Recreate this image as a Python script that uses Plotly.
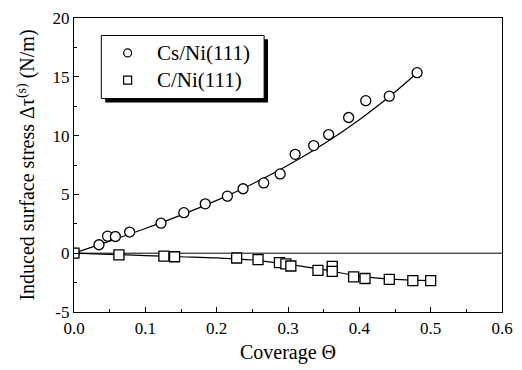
import plotly.graph_objects as go

# ---- data ----
cs_theta = [0.0, 0.035, 0.047, 0.058, 0.078, 0.122, 0.154, 0.184, 0.215, 0.237,
            0.266, 0.289, 0.310, 0.336, 0.357, 0.385, 0.409, 0.442, 0.481]
cs_stress = [0.0, 0.72, 1.45, 1.42, 1.80, 2.55, 3.45, 4.20, 4.85, 5.48,
             5.98, 6.74, 8.41, 9.15, 10.09, 11.54, 12.97, 13.35, 15.35]

c_theta = [0.0, 0.063, 0.126, 0.141, 0.228, 0.258, 0.288, 0.297, 0.304, 0.342,
           0.362, 0.362, 0.392, 0.408, 0.442, 0.475, 0.500]
c_stress = [0.0, -0.14, -0.25, -0.30, -0.41, -0.55, -0.80, -0.90, -1.09, -1.46,
            -1.12, -1.55, -2.02, -2.15, -2.22, -2.34, -2.33]

# fitted guide curves as drawn in the figure
cs_fit_theta = [0.0, 0.05, 0.10, 0.15, 0.20, 0.25, 0.30, 0.35, 0.40, 0.45, 0.48]
cs_fit_stress = [0.0, 1.03, 2.10, 3.24, 4.49, 5.89, 7.48, 9.28, 11.35, 13.71, 15.28]

c_fit_theta = [0.0, 0.05, 0.10, 0.15, 0.20, 0.25, 0.30, 0.35, 0.40, 0.45, 0.50]
c_fit_stress = [0.0, -0.10, -0.20, -0.30, -0.40, -0.58, -0.95, -1.40, -1.95, -2.22, -2.33]

legend_labels = ["Cs/Ni(111)", "C/Ni(111)"]
x_ticks = [0.0, 0.1, 0.2, 0.3, 0.4, 0.5, 0.6]
y_ticks = [-5, 0, 5, 10, 15, 20]

FONT = "Liberation Serif, Times New Roman, serif"
W, H = 522, 370
ML, MR, MT, MB = 74, 9, 9, 58

def px_to_paper(px, py):
    return ((px - ML) / (W - ML - MR), ((H - MB) - py) / (H - MB - MT))

fig = go.Figure()

fig.add_trace(go.Scatter(x=cs_fit_theta, y=cs_fit_stress, mode="lines",
                         line=dict(color="black", width=1.2, shape="spline"),
                         showlegend=False, hoverinfo="skip"))
fig.add_trace(go.Scatter(x=c_fit_theta, y=c_fit_stress, mode="lines",
                         line=dict(color="black", width=1.2, shape="spline"),
                         showlegend=False, hoverinfo="skip"))
fig.add_trace(go.Scatter(x=cs_theta, y=cs_stress, mode="markers", name=legend_labels[0],
                         marker=dict(symbol="circle", size=10, color="white",
                                     line=dict(color="black", width=1.3)),
                         showlegend=False))
fig.add_trace(go.Scatter(x=c_theta, y=c_stress, mode="markers", name=legend_labels[1],
                         marker=dict(symbol="square", size=10, color="white",
                                     line=dict(color="black", width=1.3)),
                         showlegend=False))

shapes = []
# zero line
shapes.append(dict(type="line", xref="paper", yref="y", x0=0, x1=1, y0=0, y1=0,
                   line=dict(color="black", width=1), layer="below"))
# legend box with shadow
sx0, sy0 = px_to_paper(106, 31)
sx1, sy1 = px_to_paper(273, 96)
shapes.append(dict(type="rect", xref="paper", yref="paper", x0=sx0, x1=sx1, y0=sy1, y1=sy0,
                   fillcolor="black", line=dict(width=0)))
bx0, by0 = px_to_paper(102, 27)
bx1, by1 = px_to_paper(269, 92)
shapes.append(dict(type="rect", xref="paper", yref="paper", x0=bx0, x1=bx1, y0=by1, y1=by0,
                   fillcolor="white", line=dict(color="black", width=1)))
# legend symbols
for i, (py, kind) in enumerate([(45, "circle"), (73, "rect")]):
    ax, ay = px_to_paper(129, py)
    shapes.append(dict(type=kind, xref="paper", yref="paper", xsizemode="pixel", ysizemode="pixel",
                       xanchor=ax, yanchor=ay, x0=-4, x1=4, y0=-4, y1=4,
                       fillcolor="white", line=dict(color="black", width=1.2)))

annotations = []
for label, py in zip(legend_labels, [45, 73]):
    ax, ay = px_to_paper(157, py)
    annotations.append(dict(text=label, xref="paper", yref="paper", x=ax, y=ay,
                            xanchor="left", yanchor="middle", showarrow=False,
                            font=dict(family=FONT, size=21, color="black")))

fig.update_layout(
    width=W, height=H,
    margin=dict(l=ML, r=MR, t=MT, b=MB),
    paper_bgcolor="white", plot_bgcolor="white",
    font=dict(family=FONT, color="black", size=17),
    shapes=shapes, annotations=annotations,
    xaxis=dict(range=[0, 0.6], tickvals=x_ticks, ticktext=[f"{v:.1f}" for v in x_ticks],
               ticks="inside", ticklen=5, tickwidth=1, tickcolor="black",
               minor=dict(ticks="inside", ticklen=3, dtick=0.05, tickcolor="black"),
               showline=True, linecolor="black", linewidth=1.2, mirror=True,
               showgrid=False, zeroline=False, ticklabeloverflow="allow",
               tickfont=dict(family=FONT, size=17),
               title=dict(text="Coverage Θ", font=dict(family=FONT, size=20), standoff=8)),
    yaxis=dict(range=[-5, 20], tickvals=y_ticks, ticktext=[str(v) for v in y_ticks],
               ticks="inside", ticklen=5, tickwidth=1, tickcolor="black",
               minor=dict(ticks="inside", ticklen=3, dtick=2.5, tickcolor="black"),
               showline=True, linecolor="black", linewidth=1.2, mirror=True,
               showgrid=False, zeroline=False, ticklabeloverflow="allow",
               tickfont=dict(family=FONT, size=17),
               title=dict(text="Induced surface stress Δτ<sup>(s)</sup> (N/m)",
                          font=dict(family=FONT, size=20), standoff=12)),
)

fig.write_html("out.html")
